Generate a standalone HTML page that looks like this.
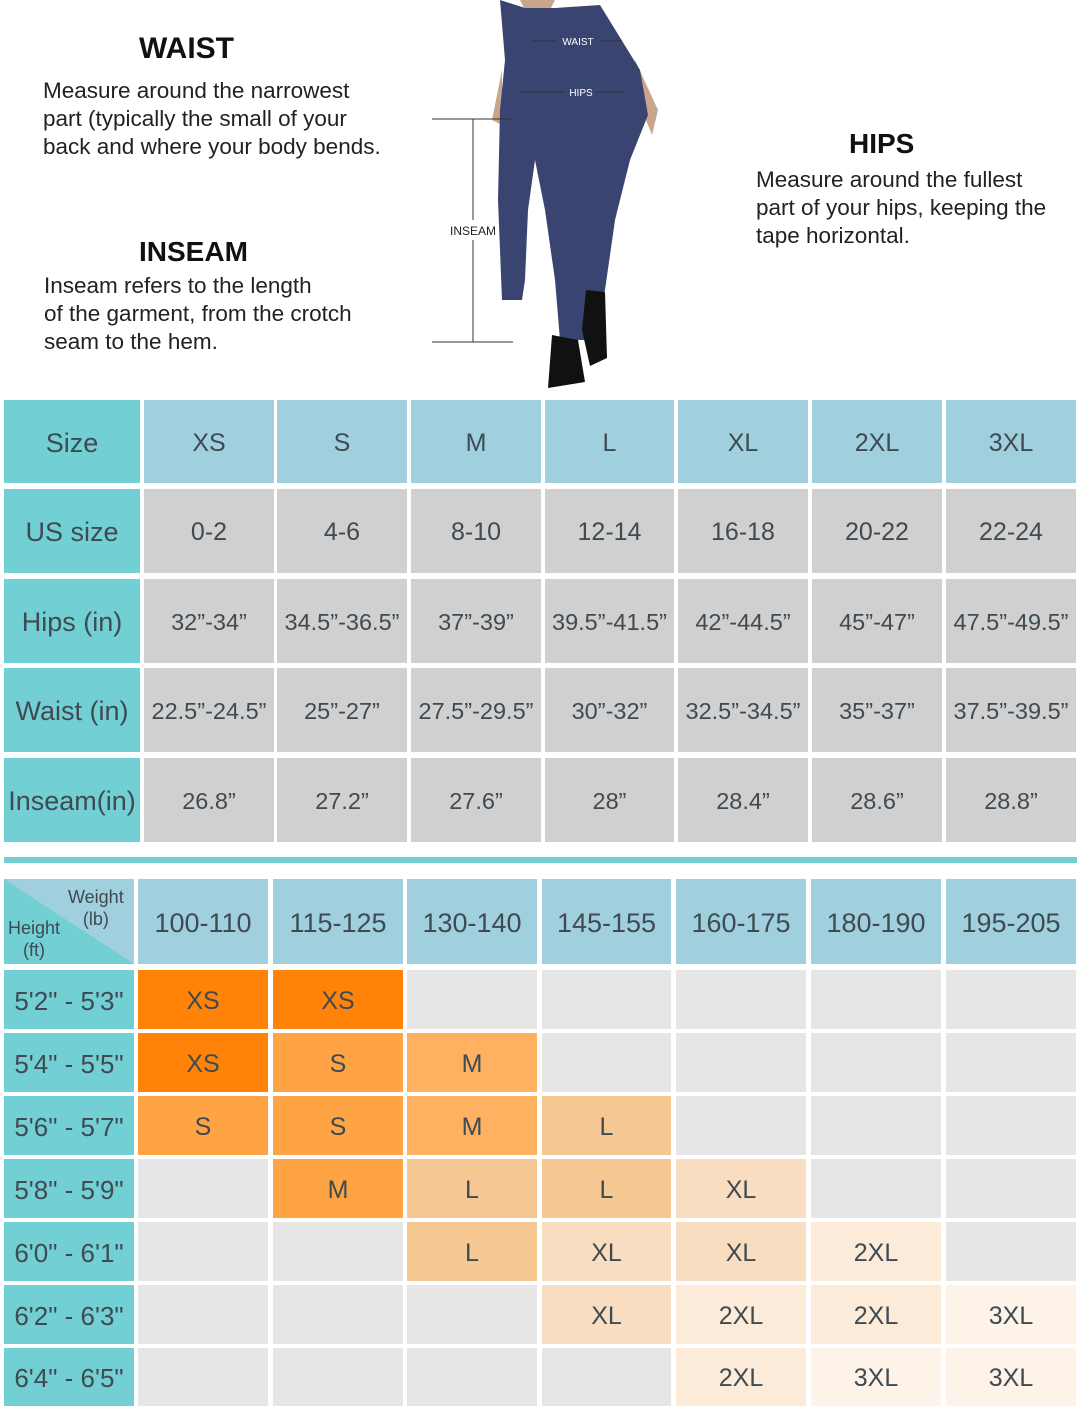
<!DOCTYPE html>
<html><head><meta charset="utf-8"><style>
body{margin:0;width:1080px;height:1408px;background:#fff;position:relative;overflow:hidden;font-family:"Liberation Sans",sans-serif;color:#3f4a52}
.c{position:absolute;display:flex;align-items:center;justify-content:center;text-align:center;font-size:25px;white-space:nowrap;padding-top:3px;box-sizing:border-box}
.t{position:absolute;font-size:22.5px;line-height:28px;color:#222}
h2{position:absolute;margin:0;font-size:30px;font-weight:bold;color:#111}
</style></head><body>
<h2 style="left:139px;top:32px">WAIST</h2>
<div class="t" style="left:43px;top:77px">Measure around the narrowest<br>part (typically the small of your<br>back and where your body bends.</div>
<h2 style="left:139px;top:236px;font-size:28px">INSEAM</h2>
<div class="t" style="left:44px;top:272px">Inseam refers to the length<br>of the garment, from the crotch<br>seam to the hem.</div>
<h2 style="left:849px;top:128px;font-size:28px">HIPS</h2>
<div class="t" style="left:756px;top:166px">Measure around the fullest<br>part of your hips, keeping the<br>tape horizontal.</div>
<svg style="position:absolute;left:0;top:0" width="1080" height="400">
<path d="M520 0 L555 0 L550 10 L525 10 Z" fill="#c9a58c"/>
<path d="M635 60 L658 110 L652 135 L638 100 Z" fill="#c9a58c"/>
<path d="M502 70 L492 120 L502 125 Z" fill="#c9a58c"/>
<path d="M500 0 L525 8 L555 8 L600 5 L640 70 L648 115 L630 160 L615 220 L605 290 L590 340 L560 340 L555 280 L545 210 L535 160 L528 210 L525 280 L522 300 L502 300 L498 200 L500 110 L505 60 Z" fill="#3a4470"/>
<path d="M586 290 L605 292 L607 358 L590 366 L582 330 Z" fill="#111"/>
<path d="M552 335 L578 340 L585 382 L548 388 Z" fill="#111"/>
<g stroke="#333" stroke-width="1"><line x1="532" y1="41" x2="622" y2="41"/><line x1="520" y1="92" x2="625" y2="92"/><line x1="432" y1="119" x2="513" y2="119"/><line x1="432" y1="342" x2="513" y2="342"/><line x1="473" y1="119" x2="473" y2="220"/><line x1="473" y1="240" x2="473" y2="342"/></g>
<rect x="556" y="34" width="44" height="14" fill="#3a4470"/><text x="578" y="45" font-size="10" fill="#fff" text-anchor="middle" font-family="Liberation Sans">WAIST</text>
<rect x="565" y="85" width="32" height="14" fill="#3a4470"/><text x="581" y="96" font-size="10" fill="#fff" text-anchor="middle" font-family="Liberation Sans">HIPS</text>
<text x="473" y="235" font-size="12" fill="#222" text-anchor="middle" font-family="Liberation Sans">INSEAM</text>
</svg>
<div style="position:absolute;left:4px;top:857px;width:1073px;height:6px;background:#72cfd3"></div>
<div id="g"></div>
<script>
var h='';
function cell(x1,x2,y1,y2,bg,txt,fs){h+='<div class="c" style="left:'+x1+'px;width:'+(x2-x1)+'px;top:'+y1+'px;height:'+(y2-y1)+'px;background:'+bg+(fs?';font-size:'+fs+'px':'')+'">'+txt+'</div>';}
var X1=[[4,140],[144,274],[277,407],[411,541],[545,674],[678,808],[812,942],[946,1076]];
var Y1=[[400,483],[489,573],[579,663],[668,752],[758,842]];
var T1=[["Size","XS","S","M","L","XL","2XL","3XL"],["US size","0-2","4-6","8-10","12-14","16-18","20-22","22-24"],["Hips (in)","32”-34”","34.5”-36.5”","37”-39”","39.5”-41.5”","42”-44.5”","45”-47”","47.5”-49.5”"],["Waist (in)","22.5”-24.5”","25”-27”","27.5”-29.5”","30”-32”","32.5”-34.5”","35”-37”","37.5”-39.5”"],["Inseam(in)","26.8”","27.2”","27.6”","28”","28.4”","28.6”","28.8”"]];
for(var r=0;r<5;r++)for(var c=0;c<8;c++){var bg=c==0?'#72cfd3':(r==0?'#a0d0de':'#d0d0d0');var fs=(r>=2&&c>0)?23.5:(c==0?27:25);cell(X1[c][0],X1[c][1],Y1[r][0],Y1[r][1],bg,T1[r][c],fs);}
var X2=[[4,134],[138,268],[273,403],[407,537],[542,671],[676,806],[811,941],[946,1076]];
var Y2=[[970,1029],[1033,1092],[1096,1155],[1159,1218],[1222,1281],[1285,1344],[1348,1406]];
var W=["100-110","115-125","130-140","145-155","160-175","180-190","195-205"];
h+='<div style="position:absolute;left:4px;top:879px;width:130px;height:85px;background:linear-gradient(to top right,#72cfd3 50%,#a0d0de 50%)"></div>';
h+='<div style="position:absolute;left:68px;top:886px;font-size:18px;line-height:22px;text-align:center">Weight<br>(lb)</div>';
h+='<div style="position:absolute;left:8px;top:917px;font-size:18px;line-height:22px;text-align:center">Height<br>(ft)</div>';
for(var c=1;c<8;c++)cell(X2[c][0],X2[c][1],879,964,'#a0d0de',W[c-1],27);
var H=["5'2\" - 5'3\"","5'4\" - 5'5\"","5'6\" - 5'7\"","5'8\" - 5'9\"","6'0\" - 6'1\"","6'2\" - 6'3\"","6'4\" - 6'5\""];
var col={XS:'#ff8309',S:'#ffa445',M:'#ffb060',L:'#f4c793',XL:'#f8ddc0',"2XL":'#fcebd9',"3XL":'#fdf3e8'};
var G=[["XS","XS","","","","",""],["XS","S","M","","","",""],["S","S","M","L","","",""],["","M","L","L","XL","",""],["","","L","XL","XL","2XL",""],["","","","XL","2XL","2XL","3XL"],["","","","","2XL","3XL","3XL"]];
var ov={"1,0":'#ff8309',"3,2":'#f4c793',"4,2":'#f4c793',"3,1":'#ffa445',"2,0":'#ffa445',"2,1":'#ffa445',"1,1":'#ffa445',"1,2":'#ffb060',"2,2":'#ffb060',"2,3":'#f4c793',"3,3":'#f4c793',"4,3":'#f8ddc0',"5,3":'#f8ddc0',"3,4":'#f8ddc0',"4,4":'#f8ddc0',"5,4":'#fcebd9',"6,4":'#fcebd9',"4,5":'#fcebd9',"5,5":'#fcebd9',"6,5":'#fdf3e8',"5,6":'#fdf3e8',"6,6":'#fdf3e8'};
for(var r=0;r<7;r++){cell(X2[0][0],X2[0][1],Y2[r][0],Y2[r][1],'#72cfd3',H[r],26);for(var c=1;c<8;c++){var t=G[r][c-1];var bg=t?(ov[r+','+(c-1)]||col[t]):'#e6e6e6';cell(X2[c][0],X2[c][1],Y2[r][0],Y2[r][1],bg,t,25);}}
document.getElementById('g').innerHTML=h;
</script>
</body></html>
